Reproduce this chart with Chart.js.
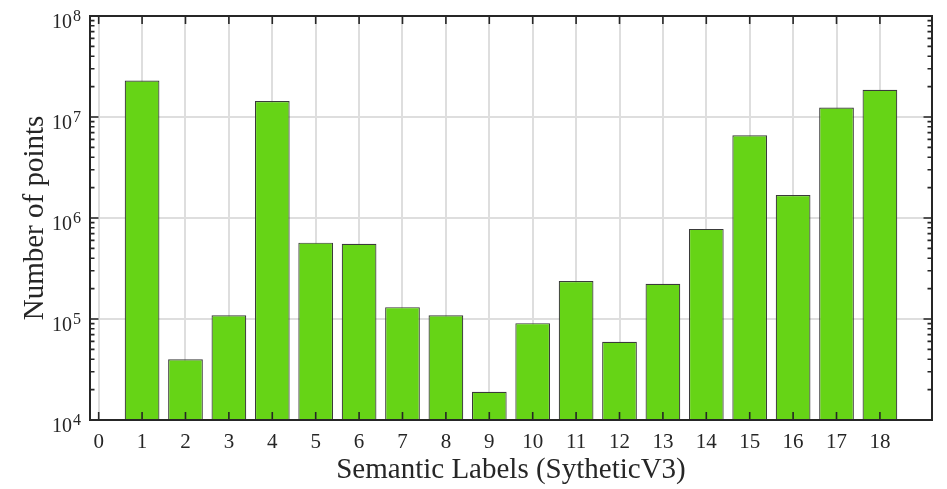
<!DOCTYPE html>
<html>
<head>
<meta charset="utf-8">
<script src="https://cdn.jsdelivr.net/npm/chart.js@4.4.1/dist/chart.umd.min.js"></script>
<style>
  html, body { margin: 0; padding: 0; background: #ffffff; }
  canvas { display: block; }
</style>
</head>
<body>
<canvas id="chart" width="947" height="489" style="width:947px;height:489px"></canvas>
<script>
// Semantic label ids and the number of points per label
const labelIds = [1, 2, 3, 4, 5, 6, 7, 8, 9, 10, 11, 12, 13, 14, 15, 16, 17, 18];
const pointCounts = [
  2.3e7, 4.0e4, 1.09e5, 1.44e7, 5.7e5, 5.55e5, 1.31e5, 1.09e5, 1.9e4,
  9.1e4, 2.38e5, 5.95e4, 2.23e5, 7.8e5, 6.6e6, 1.69e6, 1.24e7, 1.86e7
];
const xTickValues = [0, 1, 2, 3, 4, 5, 6, 7, 8, 9, 10, 11, 12, 13, 14, 15, 16, 17, 18];
const yDecadeExponents = [4, 5, 6, 7, 8];
const xTitle = 'Semantic Labels (SytheticV3)';
const yTitle = 'Number of points';

const SERIF = '"Liberation Serif", "Times New Roman", serif';
const INK = '#262626';
const GRID = '#dedede';

// Decades plus 2..9 minor steps for the log axis
function logTicks() {
  const ticks = [];
  for (let i = 0; i < yDecadeExponents.length; i++) {
    const base = Math.pow(10, yDecadeExponents[i]);
    ticks.push({ value: base, major: true });
    if (i < yDecadeExponents.length - 1) {
      for (let m = 2; m <= 9; m++) ticks.push({ value: base * m, major: false });
    }
  }
  return ticks;
}

// Box, inward tick marks, tick labels with superscripts, and axis titles
const axesDecor = {
  id: 'axesDecor',
  afterDraw(chart) {
    const { ctx, chartArea: a, scales } = chart;
    const xs = scales.x, ys = scales.y;
    ctx.save();
    ctx.strokeStyle = INK;
    ctx.fillStyle = INK;

    // tick marks
    ctx.lineWidth = 1.6;
    ctx.beginPath();
    xs.ticks.forEach(t => {
      const px = xs.getPixelForValue(t.value);
      ctx.moveTo(px, a.bottom); ctx.lineTo(px, a.bottom - 8);
      ctx.moveTo(px, a.top); ctx.lineTo(px, a.top + 8);
    });
    ys.ticks.forEach(t => {
      const py = ys.getPixelForValue(t.value);
      const len = t.major ? 8.5 : 4.5;
      ctx.moveTo(a.left, py); ctx.lineTo(a.left + len, py);
      ctx.moveTo(a.right, py); ctx.lineTo(a.right - len, py);
    });
    ctx.stroke();

    // axes box
    ctx.lineWidth = 2;
    ctx.strokeRect(a.left, a.top, a.right - a.left, a.bottom - a.top);

    // x tick labels
    ctx.font = '21px ' + SERIF;
    ctx.textAlign = 'center';
    ctx.textBaseline = 'alphabetic';
    xs.ticks.forEach(t => {
      ctx.fillText(String(t.value), xs.getPixelForValue(t.value), a.bottom + 28);
    });

    // y tick labels: 10 with superscript exponent
    ys.ticks.filter(t => t.major).forEach(t => {
      const py = ys.getPixelForValue(t.value);
      const exp = Math.round(Math.log10(t.value));
      ctx.font = '20px ' + SERIF;
      ctx.textAlign = 'right';
      ctx.fillText('10', a.left - 18, py + 11.5);
      ctx.font = '16px ' + SERIF;
      ctx.textAlign = 'left';
      ctx.fillText(String(exp), a.left - 17, py + 5);
    });

    // axis titles
    ctx.font = '29px ' + SERIF;
    ctx.textAlign = 'center';
    ctx.fillText(xTitle, (a.left + a.right) / 2, 478);
    ctx.translate(43, (a.top + a.bottom) / 2);
    ctx.rotate(-Math.PI / 2);
    ctx.fillText(yTitle, 0, 0);
    ctx.restore();
  }
};

new Chart(document.getElementById('chart'), {
  type: 'bar',
  data: {
    datasets: [{
      data: labelIds.map((id, i) => ({ x: id, y: pointCounts[i] })),
      backgroundColor: '#66d416',
      borderColor: '#3a3a3a',
      borderWidth: 1.2,
      categoryPercentage: 1.0,
      barPercentage: 0.8
    }]
  },
  options: {
    responsive: false,
    animation: false,
    devicePixelRatio: 1,
    layout: { padding: { left: 90, right: 15, top: 16, bottom: 69 } },
    plugins: { legend: { display: false }, tooltip: { enabled: false } },
    scales: {
      x: {
        type: 'linear',
        min: -0.2,
        max: 19.2,
        offset: false,
        afterBuildTicks: s => { s.ticks = xTickValues.map(v => ({ value: v })); },
        ticks: { display: false },
        border: { display: false },
        grid: { offset: false, drawTicks: false, tickLength: 0, color: GRID, lineWidth: 2 }
      },
      y: {
        type: 'logarithmic',
        min: 1e4,
        max: 1e8,
        afterBuildTicks: s => { s.ticks = logTicks(); },
        ticks: { display: false },
        border: { display: false },
        grid: {
          drawTicks: false,
          tickLength: 0,
          lineWidth: 2,
          color: c => (c.tick && c.tick.major ? GRID : 'rgba(0,0,0,0)')
        }
      }
    }
  },
  plugins: [axesDecor]
});
</script>
</body>
</html>
